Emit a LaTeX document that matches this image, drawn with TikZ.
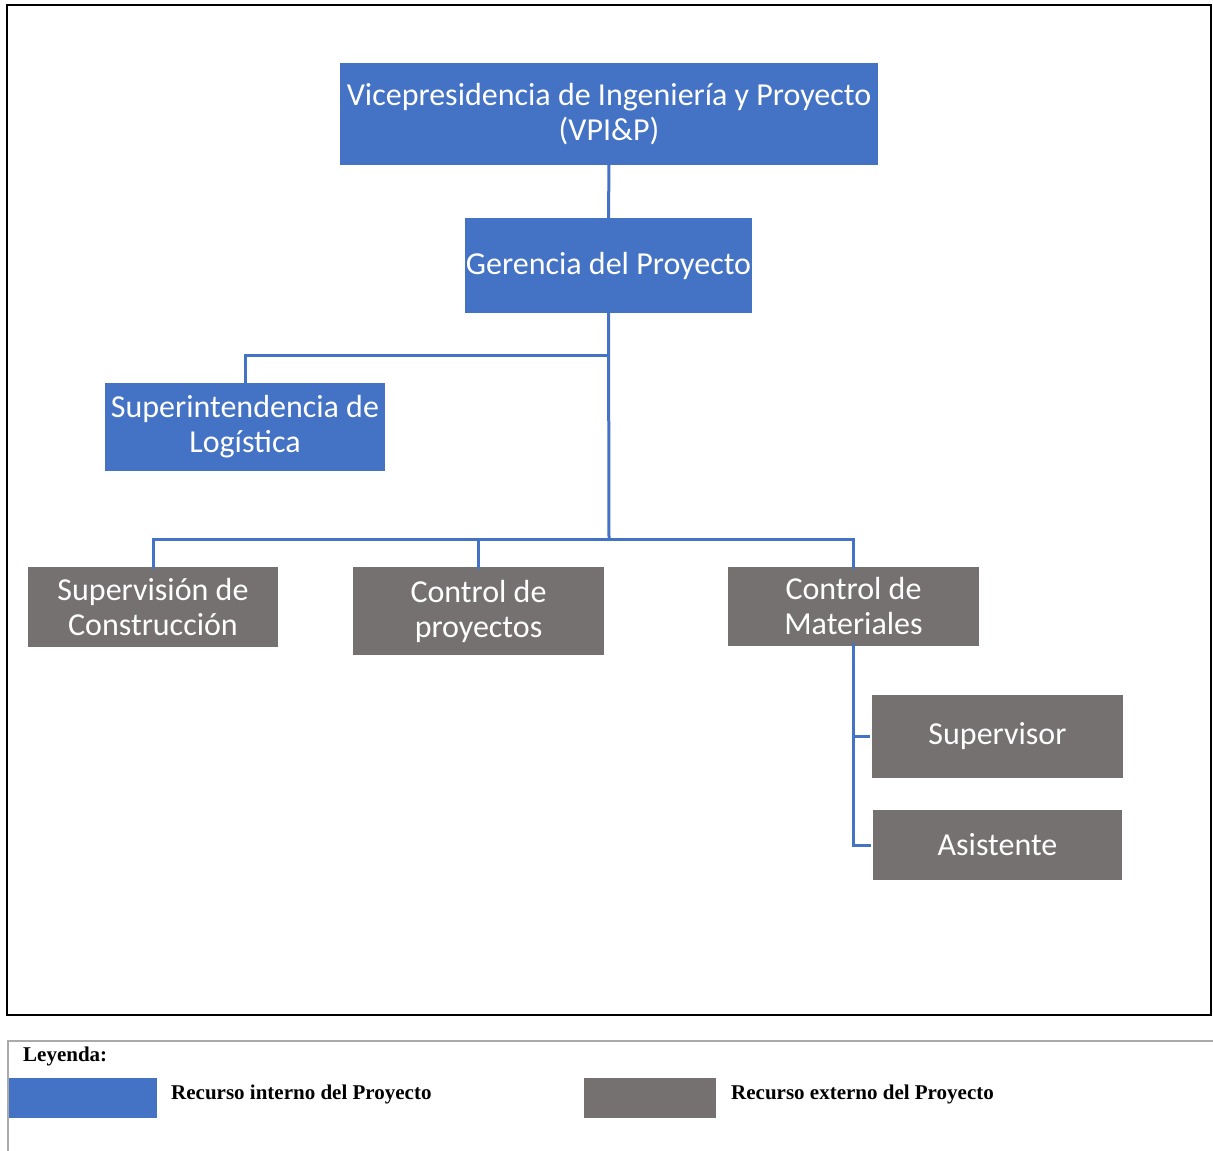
\documentclass[tikz,border=0pt]{standalone}
\usepackage{fontspec}
\setmainfont{Liberation Serif}
\newfontfamily\boxfont{Carlito}
\definecolor{intblue}{HTML}{4472C4}
\definecolor{extgray}{HTML}{767171}
\definecolor{lineblue}{HTML}{4472C4}
\definecolor{legline}{HTML}{AAAAAA}
\begin{document}
\begin{tikzpicture}[x=1pt,y=-1pt,
  orgbox/.style={draw=none, inner sep=0pt, align=center, text=white,
    font=\boxfont\fontsize{32}{35}\selectfont},
  internal/.style={orgbox, fill=intblue},
  external/.style={orgbox, fill=extgray},
  conn/.style={draw=lineblue, line width=3pt},
  legtext/.style={anchor=west, inner sep=0pt, font=\bfseries\fontsize{21}{24}\selectfont}
]
\useasboundingbox (0,0) rectangle (1213,1151);
% outer frame
\draw[line width=2pt] (7,5) rectangle (1211,1015);
% boxes
\node[internal, minimum width=538pt, minimum height=102pt] (vp) at (609,114) {Vicepresidencia de Ingeniería y Proyecto\\(VPI\&P)};
\node[internal, minimum width=287pt, minimum height=95pt] (ger) at (608.5,265.5) {Gerencia del Proyecto};
\node[internal, minimum width=280pt, minimum height=88pt] (sup) at (245,427) {Superintendencia de\\Logística};
\node[external, minimum width=250pt, minimum height=80pt] (sc) at (153,607) {Supervisión de\\Construcción};
\node[external, minimum width=251pt, minimum height=88pt] (cp) at (478.5,611) {Control de\\proyectos};
\node[external, minimum width=251pt, minimum height=79pt] (cm) at (853.5,606.5) {Control de\\Materiales};
\node[external, minimum width=251pt, minimum height=83pt] (sv) at (997.5,736.5) {Supervisor};
\node[external, minimum width=249pt, minimum height=70pt] (as) at (997.5,845) {Asistente};
% bus coordinates
\coordinate (b1) at (609,355);
\coordinate (b2) at (609,539);
% connectors
\draw[conn] ([yshift=5pt]vp.south) -- ([yshift=-3pt]ger.north);
\draw[conn] ([yshift=4pt]ger.south) -- (b2);
\draw[conn] (b1) -| ([yshift=-3pt]sup.north);
\draw[conn] (b2) -| ([yshift=-2pt]sc.north);
\draw[conn] (b2) -| ([yshift=-2pt]cp.north);
\draw[conn] (b2) -| ([yshift=-2pt]cm.north);
\draw[conn] ([yshift=3pt]cm.south) |- ([xshift=-2pt]sv.west);
\draw[conn] ([yshift=3pt]cm.south) |- ([xshift=-2pt]as.west);
% legend
\draw[legline, line width=1.5pt] (8,1151) -- (8,1041) -- (1213,1041);
\node[legtext] (leyenda) at (23,1056) {Leyenda:};
\node[fill=intblue, inner sep=0pt, minimum width=148pt, minimum height=40pt] (legint) at (83,1098) {};
\node[legtext] (legintt) at (171,1094) {Recurso interno del Proyecto};
\node[fill=extgray, inner sep=0pt, minimum width=132pt, minimum height=40pt] (legext) at (650,1098) {};
\node[legtext] (legextt) at (731,1094) {Recurso externo del Proyecto};
\end{tikzpicture}
\end{document}
